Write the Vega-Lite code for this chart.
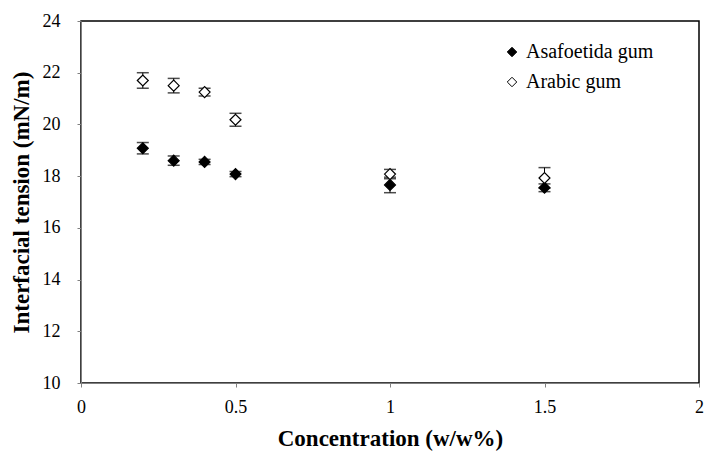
{
  "$schema": "https://vega.github.io/schema/vega-lite/v6.json",
  "width": 618,
  "height": 362,
  "autosize": {"type": "none"},
  "padding": {"left": 81, "top": 21, "right": 7, "bottom": 73},
  "background": "white",
  "config": {
    "font": "Liberation Serif",
    "view": {"stroke": "black", "strokeWidth": 1.5},
    "axis": {"grid": false, "domainColor": "#808080", "tickColor": "#808080", "labelColor": "black", "labelFont": "Liberation Serif", "labelFontSize": 18, "titleFont": "Liberation Serif", "titleFontWeight": "bold", "titleColor": "black"}
  },
  "data": {
    "values": [
      {"gum": "Asafoetida gum", "conc": 0.2, "tension": 19.08, "lo": 18.86, "hi": 19.30},
      {"gum": "Asafoetida gum", "conc": 0.3, "tension": 18.60, "lo": 18.42, "hi": 18.78},
      {"gum": "Asafoetida gum", "conc": 0.4, "tension": 18.55, "lo": 18.45, "hi": 18.65},
      {"gum": "Asafoetida gum", "conc": 0.5, "tension": 18.08, "lo": 17.98, "hi": 18.18},
      {"gum": "Asafoetida gum", "conc": 1.0, "tension": 17.66, "lo": 17.36, "hi": 17.96},
      {"gum": "Asafoetida gum", "conc": 1.5, "tension": 17.55, "lo": 17.40, "hi": 17.70},
      {"gum": "Arabic gum", "conc": 0.2, "tension": 21.70, "lo": 21.40, "hi": 22.00},
      {"gum": "Arabic gum", "conc": 0.3, "tension": 21.50, "lo": 21.22, "hi": 21.78},
      {"gum": "Arabic gum", "conc": 0.4, "tension": 21.25, "lo": 21.10, "hi": 21.40},
      {"gum": "Arabic gum", "conc": 0.5, "tension": 20.18, "lo": 19.93, "hi": 20.43},
      {"gum": "Arabic gum", "conc": 1.0, "tension": 18.08, "lo": 17.90, "hi": 18.26},
      {"gum": "Arabic gum", "conc": 1.5, "tension": 17.93, "lo": 17.53, "hi": 18.33}
    ]
  },
  "encoding": {
    "x": {"field": "conc", "type": "quantitative", "scale": {"domain": [0, 2], "nice": false, "zero": false}, "axis": {"values": [0, 0.5, 1, 1.5, 2], "format": "~g", "title": "Concentration (w/w%)", "titleFontSize": 23, "tickSize": 4, "labelPadding": 11, "titlePadding": 11, "labelFlush": false}},
    "y": {"field": "tension", "type": "quantitative", "scale": {"domain": [10, 24], "nice": false, "zero": false}, "axis": {"values": [10, 12, 14, 16, 18, 20, 22, 24], "title": "Interfacial tension (mN/m)", "titleFontSize": 23, "tickSize": 4, "labelPadding": 17, "titlePadding": 9, "labelFlush": false}}
  },
  "layer": [
    {
      "mark": {"type": "rule", "color": "black", "strokeWidth": 1},
      "encoding": {"y": {"field": "lo", "type": "quantitative"}, "y2": {"field": "hi"}}
    },
    {
      "mark": {"type": "tick", "color": "black", "size": 12, "thickness": 1.5, "orient": "horizontal"},
      "encoding": {"y": {"field": "lo", "type": "quantitative"}}
    },
    {
      "mark": {"type": "tick", "color": "black", "size": 12, "thickness": 1.5, "orient": "horizontal"},
      "encoding": {"y": {"field": "hi", "type": "quantitative"}}
    },
    {
      "mark": {"type": "point", "shape": "diamond", "size": 120, "strokeWidth": 1.2, "opacity": 1},
      "encoding": {
        "shape": {"field": "gum", "type": "nominal", "scale": {"domain": ["Asafoetida gum", "Arabic gum"], "range": ["diamond", "diamond"]}, "legend": {"title": null, "orient": "none", "legendX": 421, "legendY": 21, "labelFontSize": 20, "labelFont": "Liberation Serif", "labelColor": "black", "rowPadding": 10, "symbolSize": 90, "symbolStrokeWidth": 1, "labelOffset": 4}},
        "fill": {"field": "gum", "type": "nominal", "scale": {"domain": ["Asafoetida gum", "Arabic gum"], "range": ["black", "white"]}, "legend": null},
        "stroke": {"value": "black"}
      }
    }
  ]
}
